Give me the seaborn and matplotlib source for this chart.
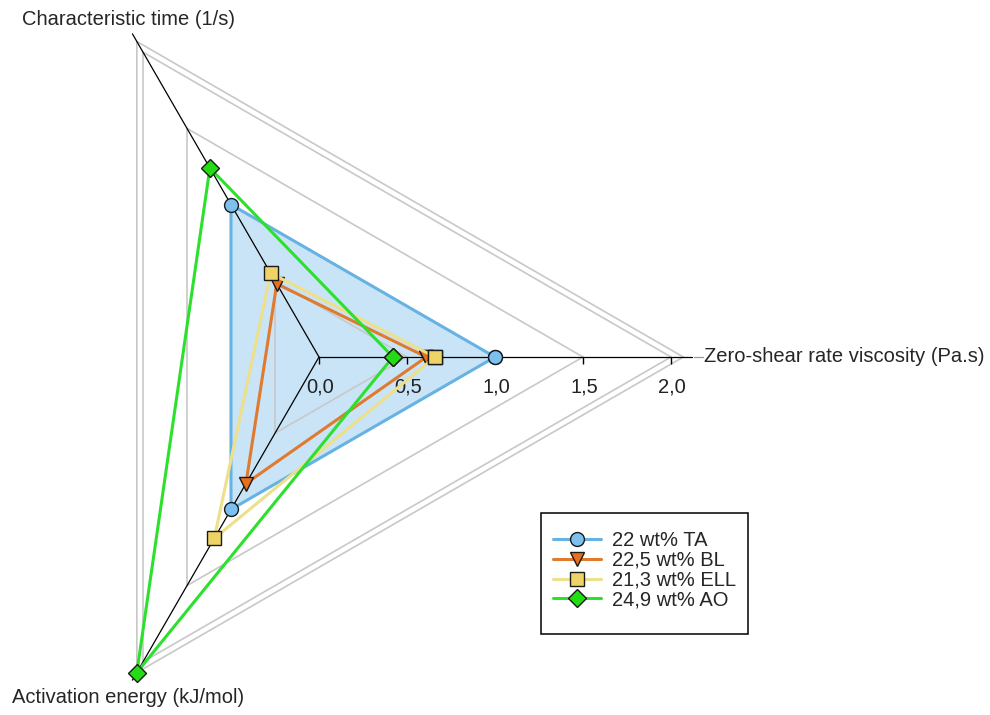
import numpy as np
import matplotlib
matplotlib.use("Agg")
import matplotlib.pyplot as plt
from matplotlib.patches import Rectangle
import seaborn as sns

# axes of the radar, counter-clockwise from the right
axis_names = ["Zero-shear rate viscosity (Pa.s)", "Characteristic time (1/s)", "Activation energy (kJ/mol)"]
tick_values = [0.0, 0.5, 1.0, 1.5, 2.0]
tick_labels = ["0,0", "0,5", "1,0", "1,5", "2,0"]
grid_levels = [0.5, 1.0, 1.5, 2.0, 2.07]

series_names = ["22 wt% TA", "22,5 wt% BL", "21,3 wt% ELL", "24,9 wt% AO"]
ta_values = [1.0, 1.0, 1.0]
bl_values = [0.61, 0.48, 0.83]
ell_values = [0.66, 0.55, 1.19]
ao_values = [0.42, 1.24, 2.07]

line_colors = ["#66b3e3", "#e07a2e", "#eedf8a", "#2ee02e"]
face_colors = ["#7cc0ee", "#e8701c", "#eed466", "#22dd11"]
markers = ["o", "v", "s", "D"]

sns.set_style("white")
plt.rcParams["font.family"] = ["Liberation Sans", "DejaVu Sans"]
FS = 14.5

W, H = 990, 715
cx, cy = 319, 357          # centre of the radar in pixels (from top)
rmax = 2.12
R = rmax * 176             # pixel radius for rmax

fig = plt.figure(figsize=(W / 100, H / 100), dpi=100)
ax = fig.add_axes([(cx - R) / W, (H - cy - R) / H, 2 * R / W, 2 * R / H], projection="polar")
ax.set_ylim(0, rmax)
ax.set_xticks([])
ax.set_yticks([])
ax.grid(False)
ax.spines["polar"].set_visible(False)
ax.patch.set_alpha(0)

thetas = np.deg2rad([0, 120, 240])
closed_t = np.append(thetas, 2 * np.pi)

def close(vals):
    return np.append(vals, vals[0])

# grey triangular grid
for lev in grid_levels:
    ax.plot(closed_t, [lev] * 4, color="#c8c8c8", lw=1.2, zorder=1, clip_on=False)

# filled area for TA
ax.fill(closed_t, close(ta_values), color="#c3e2f6", alpha=0.9, zorder=0, lw=0)

# black axis lines
for t in thetas:
    ax.plot([t, t], [0, rmax], color="black", lw=0.9, zorder=2, clip_on=False)
ax.plot([0, 0], [2.13, 2.18], color="#999999", lw=0.9, clip_on=False)

# ticks and labels on the viscosity axis
ax.plot([0] * len(tick_values), tick_values, ls="none", marker=3, ms=5,
        color="black", mew=1.0, zorder=2, clip_on=False)
for v, lab in zip(tick_values, tick_labels):
    ax.annotate(lab, (0, v), xytext=(1, -30), textcoords="offset pixels",
                ha="center", va="center", fontsize=FS, color="#222222")

all_values = [ta_values, bl_values, ell_values, ao_values]
for name, vals, lc, fc, mk in zip(series_names, all_values, line_colors, face_colors, markers):
    sns.lineplot(x=closed_t, y=close(vals), ax=ax, sort=False, color=lc, lw=2.2,
                 marker=mk, markersize=10 if mk != "D" else 9, markerfacecolor=fc,
                 markeredgecolor="#1a1a1a", markeredgewidth=1.0, label=name,
                 zorder=3, clip_on=False)

ax.set_xlabel("")
ax.set_ylabel("")

# axis names at the tips
ax.annotate(axis_names[0], (thetas[0], rmax), xytext=(12, 0), textcoords="offset pixels",
            ha="left", va="center", fontsize=FS)
ax.annotate(axis_names[1], (thetas[1], rmax), xytext=(-4, 14), textcoords="offset pixels",
            ha="center", va="center", fontsize=FS)
ax.annotate(axis_names[2], (thetas[2], rmax), xytext=(-4, -17), textcoords="offset pixels",
            ha="center", va="center", fontsize=FS)

handles, labels = ax.get_legend_handles_labels()
if ax.legend_:
    ax.legend_.remove()

# legend box drawn separately so its size matches the original
box = Rectangle((541 / W, (H - 634) / H), (748 - 541) / W, (634 - 513) / H,
                transform=fig.transFigure, fill=False, edgecolor="black", lw=1.1)
fig.patches.append(box)
fig.legend(handles, labels, loc="upper left", bbox_to_anchor=(553 / W, (H - 531) / H),
           fontsize=FS, frameon=False, handlelength=2.4, handletextpad=0.55,
           labelspacing=0.04, borderpad=0, borderaxespad=0)

plt.savefig("out.png", dpi=100)
plt.close()
